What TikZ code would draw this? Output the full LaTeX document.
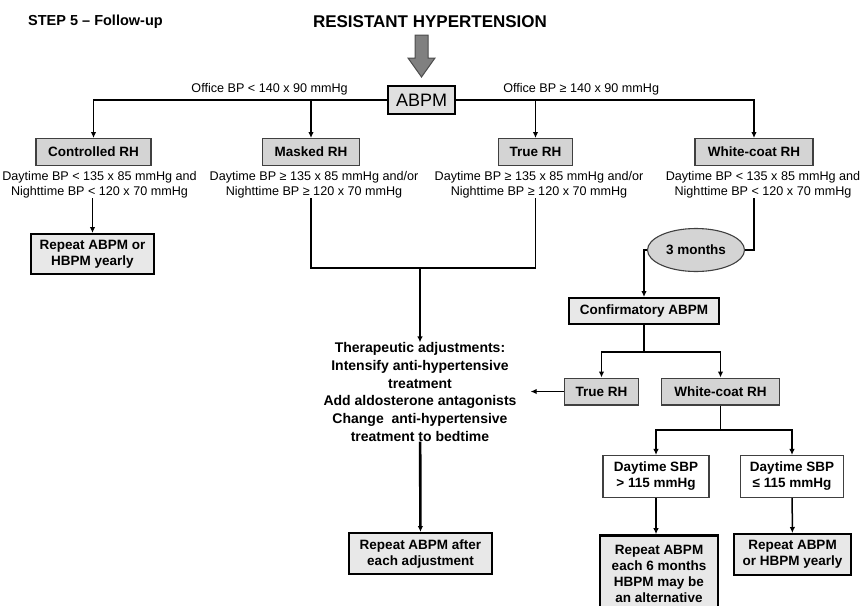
\documentclass[tikz,border=0pt]{standalone}
\usepackage{fontspec}
\setmainfont{Liberation Sans}
\usetikzlibrary{arrows.meta,positioning,shapes.geometric}

\begin{document}
\begin{tikzpicture}[x=1pt, y=-1pt,
  font=\fontsize{13.5}{16}\selectfont\bfseries,
  box/.style={draw=black!75, line width=1.1pt, fill=black!17, align=center,
              inner sep=2pt, minimum height=26.9pt},
  bbox/.style={draw, line width=2.4pt, fill=black!9, align=center, inner sep=2pt},
  wbox/.style={draw=black!75, line width=1.1pt, fill=white, align=center,
               inner sep=2pt, minimum height=42pt},
  lbl/.style={font=\fontsize{12.6}{15}\selectfont, align=center, inner sep=0pt},
  fat/.style={draw=black!70, line width=1pt, fill=black!50, line join=miter},
  arr/.style={-{Latex[length=6pt,width=5.5pt]}, line width=1.5pt},
  ln/.style={line width=1.5pt},
  node distance=4pt
]
\useasboundingbox (0,0) rectangle (861,605);

\node[font=\fontsize{14.5}{16}\selectfont\bfseries, anchor=west, inner sep=0pt] (step) at (28,22) {STEP 5 -- Follow-up};
\node[font=\fontsize{17}{20}\selectfont\bfseries, inner sep=0pt] (title) at (430,22) {RESISTANT HYPERTENSION};
\node[bbox, font=\fontsize{18}{20}\selectfont, fill=black!12, minimum width=66.6pt, minimum height=27.6pt] (abpm) at (421.5,100) {ABPM};
\draw[fat] (415,35) -- (428,35) -- (428,58) -- (435,58) -- (421.5,77) -- (408,58) -- (415,58) -- cycle;

\node[box, minimum width=115pt] (ctrl)  at (93.5,152) {Controlled RH};
\node[box, minimum width=97pt]  (mask)  at (311,152)  {Masked RH};
\node[box, minimum width=74pt]  (true)  at (535.5,152) {True RH};
\node[box, minimum width=118pt] (white) at (754,152)  {White-coat RH};

\node[lbl, below=5pt of ctrl, xshift=6pt]   (ctrlc)  {Daytime BP < 135 x 85 mmHg and\\Nighttime BP < 120 x 70 mmHg};
\node[lbl, below=5pt of mask, xshift=3pt]   (maskc)  {Daytime BP ≥ 135 x 85 mmHg and/or\\Nighttime BP ≥ 120 x 70 mmHg};
\node[lbl, below=5pt of true, xshift=3.5pt] (truec)  {Daytime BP ≥ 135 x 85 mmHg and/or\\Nighttime BP ≥ 120 x 70 mmHg};
\node[lbl, below=5pt of white, xshift=9pt]  (whitec) {Daytime BP < 135 x 85 mmHg and\\Nighttime BP < 120 x 70 mmHg};

\node[bbox, minimum width=122.6pt, minimum height=39.6pt] (rep1) at (92.5,254) {Repeat ABPM or\\HBPM yearly};

\node[font=\fontsize{14}{17.7}\selectfont\bfseries, align=center, inner sep=0pt] (ther) at (420,392)
  {Therapeutic adjustments:\\Intensify anti-hypertensive\\treatment\\Add aldosterone antagonists\\Change~ anti-hypertensive\\treatment to bedtime};
\node[bbox, minimum width=142.6pt, minimum height=40.6pt] (rep2) at (420.5,553.5) {Repeat ABPM after\\each adjustment};

\node[ellipse, draw=black!75, line width=1.1pt, fill=black!17, minimum width=97pt, minimum height=43pt, inner sep=0pt] (mon) at (696,250) {3 months};
\node[bbox, minimum width=149.6pt, minimum height=25.6pt] (conf) at (644,311) {Confirmatory ABPM};
\node[box, minimum width=74pt]  (true2)  at (601.5,391.5) {True RH};
\node[box, minimum width=118pt] (white2) at (720.5,391.5) {White-coat RH};
\node[wbox, minimum width=106pt] (sbphi) at (656,476.5) {Daytime SBP\\> 115 mmHg};
\node[wbox, minimum width=103pt] (sbplo) at (792,476.5) {Daytime SBP\\≤ 115 mmHg};
\node[bbox, anchor=north, minimum width=117.6pt, minimum height=78pt] (rep3) at (659,534.2) {Repeat ABPM\\each 6 months\\HBPM may be\\an alternative};
\node[bbox, minimum width=116.6pt, minimum height=40.6pt] (rep4) at (792.5,554.5) {Repeat ABPM\\or HBPM yearly};

\coordinate (mrg) at (420,268);
\coordinate (split2) at (644,352);
\coordinate (split3) at (720.5,430);

\draw[arr] (abpm.west) -| node[lbl, above=4pt, pos=0.2]{Office BP < 140 x 90 mmHg} (ctrl);
\draw[arr] (mask |- abpm.west) -- (mask);
\draw[arr] (abpm.east) -| node[lbl, above=4pt, pos=0.21]{Office BP ≥ 140 x 90 mmHg} (white);
\draw[arr] (true |- abpm.east) -- (true);
\draw[arr] (rep1 |- ctrlc.south) -- (rep1);
\draw[ln] (mask |- maskc.south) |- (true |- mrg) -- (true |- truec.south);
\draw[arr] (mrg) -- (ther);
\draw[arr, line width=2.6pt] (ther) -- (rep2);
\draw[ln] (white |- whitec.south) |- (mon.east);
\draw[arr] (mon.west) -| (conf);
\draw[ln] (conf) -- (split2);
\draw[arr] (split2) -| (true2);
\draw[arr] (split2) -| (white2);
\draw[arr, shorten >=14pt] (true2) -- (true2 -| ther.east);
\draw[ln] (white2) -- (split3);
\draw[arr] (split3) -| (sbphi);
\draw[arr] (split3) -| (sbplo);
\draw[arr] (sbphi) -- (sbphi |- rep3.north);
\draw[arr] (sbplo) -- (rep4);
\end{tikzpicture}
\end{document}
